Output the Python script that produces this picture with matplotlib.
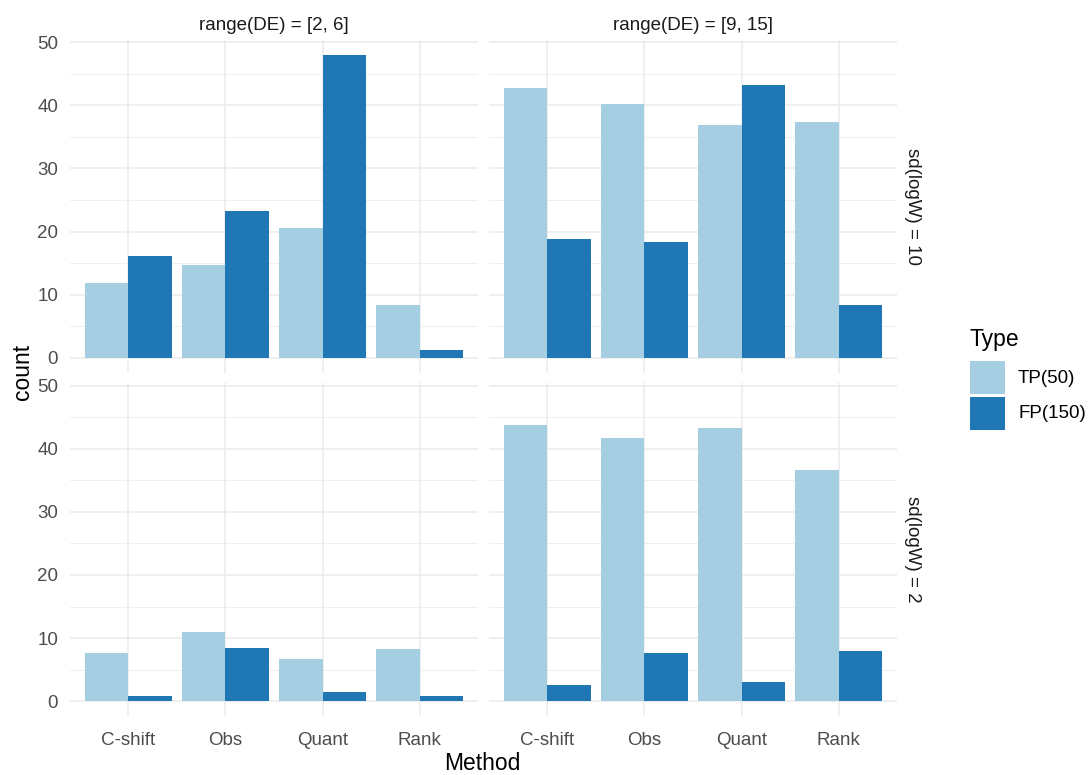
import matplotlib
matplotlib.use("Agg")
import matplotlib.pyplot as plt
from matplotlib.patches import Rectangle
import numpy as np

plt.rcParams["font.family"] = ["Liberation Sans", "DejaVu Sans"]

methods = ["C-shift", "Obs", "Quant", "Rank"]
types = ["TP(50)", "FP(150)"]
colors = ["#A6CEE3", "#1F78B4"]
col_labels = ["range(DE) = [2, 6]", "range(DE) = [9, 15]"]
row_labels = ["sd(logW) = 10", "sd(logW) = 2"]

# counts per facet: TP and FP values per method
tp_sd10_de26 = [11.9, 14.7, 20.5, 8.3]
fp_sd10_de26 = [16.2, 23.3, 48.0, 1.3]
tp_sd10_de915 = [42.7, 40.2, 36.9, 37.4]
fp_sd10_de915 = [18.9, 18.3, 43.2, 8.4]
tp_sd2_de26 = [7.7, 10.9, 6.7, 8.2]
fp_sd2_de26 = [0.85, 8.5, 1.4, 0.85]
tp_sd2_de915 = [43.7, 41.7, 43.3, 36.7]
fp_sd2_de915 = [2.6, 7.7, 3.1, 7.9]

panels = [
    [(tp_sd10_de26, fp_sd10_de26), (tp_sd10_de915, fp_sd10_de915)],
    [(tp_sd2_de26, fp_sd2_de26), (tp_sd2_de915, fp_sd2_de915)],
]

W, H = 1090, 775
fig = plt.figure(figsize=(W / 100, H / 100), dpi=100)

lefts = [70, 489]
width = 408
tops = [39.6, 383]
height = 333.4

all_vals = [v for row in panels for pair in row for s in pair for v in s]
ymax = max(all_vals)
pad = 0.05 * ymax

x = np.arange(1, len(methods) + 1)
bw = 0.45
grid_col = "#EBEBEB"
tick_col = "#4D4D4D"
small = 13.5
big = 16.5

for r in range(2):
    for c in range(2):
        ax = fig.add_axes([lefts[c] / W, 1 - (tops[r] + height) / H, width / W, height / H])
        tp, fp = panels[r][c]
        ax.bar(x - bw / 2, tp, width=bw, color=colors[0], zorder=3)
        ax.bar(x + bw / 2, fp, width=bw, color=colors[1], zorder=3)
        ax.set_xlim(0.4, 4.6)
        ax.set_ylim(-pad, ymax + pad)
        for s in ax.spines.values():
            s.set_visible(False)
        ax.set_yticks([0, 10, 20, 30, 40, 50])
        ax.set_yticks([5, 15, 25, 35, 45], minor=True)
        ax.set_xticks(x)
        ax.grid(True, which="major", color=grid_col, linewidth=1.1, zorder=0)
        ax.grid(True, which="minor", axis="y", color=grid_col, linewidth=0.55, zorder=0)
        ax.tick_params(which="both", length=0, colors=tick_col, labelsize=small)
        ax.tick_params(axis="y", pad=8.5)
        ax.tick_params(axis="x", pad=11)
        if c == 0:
            ax.set_yticklabels(["0", "10", "20", "30", "40", "50"])
        else:
            ax.set_yticklabels([])
        if r == 1:
            ax.set_xticklabels(methods)
        else:
            ax.set_xticklabels([])
        ax.set_facecolor("white")
        if r == 0:
            cx = (lefts[c] + width / 2) / W
            fig.text(cx, 1 - 25 / H, col_labels[c], ha="center", va="center",
                     fontsize=small, color="#1A1A1A")
        if c == 1:
            cy = 1 - (tops[r] + height / 2) / H
            fig.text(913 / W, cy, row_labels[r], ha="center", va="center",
                     rotation=-90, fontsize=small, color="#1A1A1A")

fig.text(22 / W, 1 - 372 / H, "count", rotation=90, ha="center", va="center", fontsize=big)
fig.text(482 / W, 1 - 764 / H, "Method", ha="center", va="center", fontsize=big)

# legend
fig.text(970 / W, 1 - 339 / H, "Type", ha="left", va="center", fontsize=big)
for i, (lab, col) in enumerate(zip(types, colors)):
    y0 = 361 + i * 36
    fig.add_artist(Rectangle((970 / W, 1 - (y0 + 33) / H), 35 / W, 33 / H,
                             transform=fig.transFigure, facecolor=col, edgecolor="none"))
    fig.text(1018 / W, 1 - (y0 + 17) / H, lab, ha="left", va="center", fontsize=small)

fig.savefig("out.png", dpi=100, facecolor="white")
